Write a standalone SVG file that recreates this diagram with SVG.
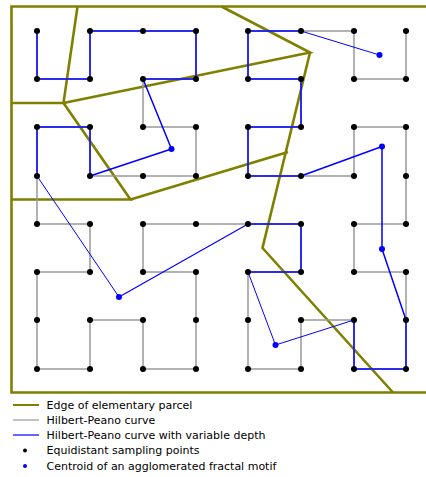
<svg xmlns="http://www.w3.org/2000/svg" width="426" height="477" viewBox="0 0 426 477">
<style>
.edge{fill:none;stroke:#808000;stroke-width:2.6;stroke-linejoin:miter}
.hp{fill:none;stroke:#999;stroke-width:1.5}
.vd{fill:none;stroke:#0000ff;stroke-width:1.5;stroke-linejoin:round}
.vt{fill:none;stroke:#0000ff;stroke-width:1}
.pt{fill:#000}
.ct{fill:#0000ff}
.lbl{font-family:"DejaVu Sans",sans-serif;font-size:11px;fill:#000}
</style>
<rect width="426" height="477" fill="#fff"/>
<g id="parcels">
<path class="edge" d="M430,6.5 H11.5 V392.5 H430"/>
<path class="edge" d="M77.5,6.5 L63.5,103 L11.5,103"/>
<path class="edge" d="M63.5,103 L310,52.5 L221.5,6.5"/>
<path class="edge" d="M310,52.5 L262.5,248 L393,392.5"/>
<path class="edge" d="M63.5,103 L130.5,199.5 L11.5,199.5"/>
<path class="edge" d="M130.5,199.5 L288,152"/>
</g>
<g id="connectors">
<polyline class="hp" points="37,31 37,79 90,79 90,31 143,31 196,31 196,79 143,79 143,127 196,127 196,176 143,176 90,176 90,127 37,127 37,176 37,224 90,224 90,272 37,272 37,320 37,369 90,369 90,320 143,320 143,369 196,369 196,320 196,272 143,272 143,224 196,224 248,224 301,224 301,272 248,272 248,320 248,369 301,369 301,320 354,320 354,369 406,369 406,320 406,272 354,272 354,224 406,224 406,176 406,127 354,127 354,176 301,176 248,176 248,127 301,127 301,79 248,79 248,31 301,31 354,31 354,79 406,79 406,31"/>
<polyline class="vd" points="37,31 37,79 90,79 90,31 143,31 196,31 196,79 143,79 171.5,149 90,176 90,127 37,127 37,176"/>
<line class="vt" x1="37" y1="176" x2="119" y2="297"/>
<line class="vd" x1="119" y1="297" x2="248" y2="224" style="stroke-width:1.2"/>
<polyline class="vd" points="248,224 301,224 301,272 248,272"/>
<polyline class="vt" points="248,272 275.5,345 354,320"/>
<polyline class="vd" points="354,320 354,369 406,369 406,320 382,249 382,146.5 301,176 248,176 248,127 301,127 301,79 248,79 248,31 301,31"/>
<line class="vt" x1="301" y1="31" x2="379.5" y2="55"/>
</g>
<g id="points">
<circle class="pt" cx="37" cy="31" r="3"/><circle class="pt" cx="90" cy="31" r="3"/><circle class="pt" cx="143" cy="31" r="3"/><circle class="pt" cx="196" cy="31" r="3"/><circle class="pt" cx="248" cy="31" r="3"/><circle class="pt" cx="301" cy="31" r="3"/><circle class="pt" cx="354" cy="31" r="3"/><circle class="pt" cx="406" cy="31" r="3"/>
<circle class="pt" cx="37" cy="79" r="3"/><circle class="pt" cx="90" cy="79" r="3"/><circle class="pt" cx="143" cy="79" r="3"/><circle class="pt" cx="196" cy="79" r="3"/><circle class="pt" cx="248" cy="79" r="3"/><circle class="pt" cx="301" cy="79" r="3"/><circle class="pt" cx="354" cy="79" r="3"/><circle class="pt" cx="406" cy="79" r="3"/>
<circle class="pt" cx="37" cy="127" r="3"/><circle class="pt" cx="90" cy="127" r="3"/><circle class="pt" cx="143" cy="127" r="3"/><circle class="pt" cx="196" cy="127" r="3"/><circle class="pt" cx="248" cy="127" r="3"/><circle class="pt" cx="301" cy="127" r="3"/><circle class="pt" cx="354" cy="127" r="3"/><circle class="pt" cx="406" cy="127" r="3"/>
<circle class="pt" cx="37" cy="176" r="3"/><circle class="pt" cx="90" cy="176" r="3"/><circle class="pt" cx="143" cy="176" r="3"/><circle class="pt" cx="196" cy="176" r="3"/><circle class="pt" cx="248" cy="176" r="3"/><circle class="pt" cx="301" cy="176" r="3"/><circle class="pt" cx="354" cy="176" r="3"/><circle class="pt" cx="406" cy="176" r="3"/>
<circle class="pt" cx="37" cy="224" r="3"/><circle class="pt" cx="90" cy="224" r="3"/><circle class="pt" cx="143" cy="224" r="3"/><circle class="pt" cx="196" cy="224" r="3"/><circle class="pt" cx="248" cy="224" r="3"/><circle class="pt" cx="301" cy="224" r="3"/><circle class="pt" cx="354" cy="224" r="3"/><circle class="pt" cx="406" cy="224" r="3"/>
<circle class="pt" cx="37" cy="272" r="3"/><circle class="pt" cx="90" cy="272" r="3"/><circle class="pt" cx="143" cy="272" r="3"/><circle class="pt" cx="196" cy="272" r="3"/><circle class="pt" cx="248" cy="272" r="3"/><circle class="pt" cx="301" cy="272" r="3"/><circle class="pt" cx="354" cy="272" r="3"/><circle class="pt" cx="406" cy="272" r="3"/>
<circle class="pt" cx="37" cy="320" r="3"/><circle class="pt" cx="90" cy="320" r="3"/><circle class="pt" cx="143" cy="320" r="3"/><circle class="pt" cx="196" cy="320" r="3"/><circle class="pt" cx="248" cy="320" r="3"/><circle class="pt" cx="301" cy="320" r="3"/><circle class="pt" cx="354" cy="320" r="3"/><circle class="pt" cx="406" cy="320" r="3"/>
<circle class="pt" cx="37" cy="369" r="3"/><circle class="pt" cx="90" cy="369" r="3"/><circle class="pt" cx="143" cy="369" r="3"/><circle class="pt" cx="196" cy="369" r="3"/><circle class="pt" cx="248" cy="369" r="3"/><circle class="pt" cx="301" cy="369" r="3"/><circle class="pt" cx="354" cy="369" r="3"/><circle class="pt" cx="406" cy="369" r="3"/>
</g>
<g id="centroids">
<circle class="ct" cx="171.5" cy="149" r="3"/>
<circle class="ct" cx="119" cy="297" r="3"/>
<circle class="ct" cx="275.5" cy="345" r="3"/>
<circle class="ct" cx="382" cy="249" r="3"/>
<circle class="ct" cx="382" cy="146.5" r="3"/>
<circle class="ct" cx="379.5" cy="55" r="3"/>
</g>
<g id="legend">
<line x1="13" y1="405" x2="39" y2="405" stroke="#808000" stroke-width="2"/>
<line x1="13" y1="420" x2="39" y2="420" stroke="#999" stroke-width="1.2"/>
<line x1="13" y1="435" x2="39" y2="435" stroke="#0000ff" stroke-width="1.2"/>
<circle cx="25" cy="450.5" r="2" fill="#000"/>
<circle cx="25" cy="466" r="2" fill="#0000ff"/>
<text class="lbl" x="46.5" y="408.5">Edge of elementary parcel</text>
<text class="lbl" x="46.5" y="423.5">Hilbert-Peano curve</text>
<text class="lbl" x="46.5" y="438.5">Hilbert-Peano curve with variable depth</text>
<text class="lbl" x="46.5" y="454">Equidistant sampling points</text>
<text class="lbl" x="46.5" y="469.5">Centroid of an agglomerated fractal motif</text>
</g>
</svg>
